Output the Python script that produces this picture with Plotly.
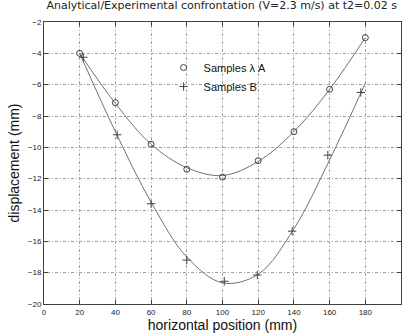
import plotly.graph_objects as go

# Analytical curves
curve_x = [20, 40, 60, 80, 100, 120, 140, 160, 180]
curve_a = [-4.0, -7.2, -9.8, -11.3, -11.8, -10.9, -9.0, -6.3, -3.0]
curve_b = [-4.0, -9.0, -13.5, -17.0, -18.65, -18.1, -15.2, -10.8, -5.9]

# Experimental samples
samp_a_x = [20, 40, 60, 80, 100, 120, 140, 160, 180]
samp_a_y = [-4.0, -7.15, -9.8, -11.4, -11.9, -10.85, -9.0, -6.3, -3.0]
samp_b_x = [22, 41, 60, 80, 101, 119.5, 139, 159, 177.5]
samp_b_y = [-4.25, -9.2, -13.6, -17.2, -18.55, -18.15, -15.35, -10.5, -6.5]

x_ticks = [0, 20, 40, 60, 80, 100, 120, 140, 160, 180, 200]
y_ticks = [-20, -18, -16, -14, -12, -10, -8, -6, -4, -2]

line_col = "#707070"
mk_col = "#404040"

fig = go.Figure()
fig.add_trace(go.Scatter(x=curve_x, y=curve_a, mode="lines", line=dict(color=line_col, width=1, shape="spline"),
                         showlegend=False, hoverinfo="skip"))
fig.add_trace(go.Scatter(x=curve_x, y=curve_b, mode="lines", line=dict(color=line_col, width=1, shape="spline"),
                         showlegend=False, hoverinfo="skip"))
fig.add_trace(go.Scatter(x=samp_a_x, y=samp_a_y, mode="markers", name="Samples λ A",
                         marker=dict(symbol="circle-open", size=6, color=mk_col, line=dict(width=1, color=mk_col))))
fig.add_trace(go.Scatter(x=samp_b_x, y=samp_b_y, mode="markers", name="Samples B",
                         marker=dict(symbol="cross-thin-open", size=6, color=mk_col, line=dict(width=1, color=mk_col))))

axis_common = dict(showline=True, linecolor="#404040", linewidth=1, mirror="ticks", ticks="inside",
                   ticklen=4, tickcolor="#404040", showgrid=True, gridcolor="#a0a0a0", griddash="1px,2px,3px,2px",
                   gridwidth=1, zeroline=False, tickfont=dict(family="Liberation Sans, Arial", size=8, color="#222"))

fig.update_layout(
    width=406, height=333,
    margin=dict(l=44, r=5, t=22, b=29),
    paper_bgcolor="white", plot_bgcolor="white",
    title=dict(text="Analytical/Experimental confrontation (V=2.3 m/s) at t2=0.02 s",
               font=dict(family="DejaVu Sans", size=11, color="#222"),
               x=0.546, xanchor="center", y=0.995, yanchor="top"),
    xaxis=dict(range=[0, 200], tickvals=x_ticks, title=dict(text="horizontal position (mm)", standoff=0,
               font=dict(family="Liberation Sans, Arial", size=14, color="#111")), **axis_common),
    yaxis=dict(range=[-20, -2], tickvals=y_ticks, title=dict(text="displacement (mm)", standoff=4,
               font=dict(family="Liberation Sans, Arial", size=14, color="#111")), **axis_common),
    legend=dict(x=0.335, y=0.89, xanchor="left", yanchor="top", bgcolor="rgba(0,0,0,0)",
                font=dict(family="Liberation Sans, Arial", size=11, color="#111"),
                itemwidth=30, tracegroupgap=0),
)

fig.write_html("out.html")
